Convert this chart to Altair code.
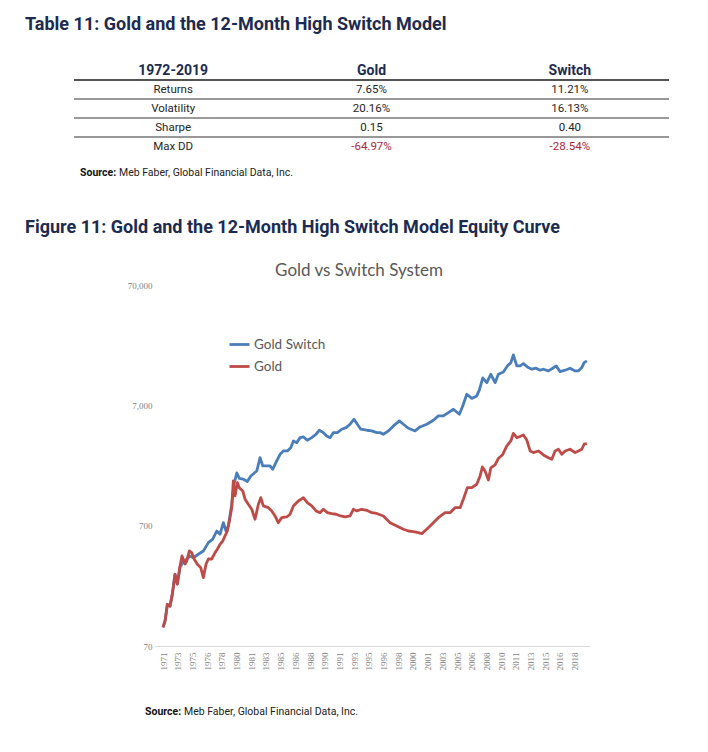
import json
import altair as alt
import pandas as pd

# ---------------- table values ----------------
table_header = ["1972-2019", "Gold", "Switch"]
table_metrics = ["Returns", "Volatility", "Sharpe", "Max DD"]
gold_stats = ["7.65%", "20.16%", "0.15", "-64.97%"]
switch_stats = ["11.21%", "16.13%", "0.40", "-28.54%"]

table_title = "Table 11: Gold and the 12-Month High Switch Model"
figure_title = "Figure 11: Gold and the 12-Month High Switch Model Equity Curve"
chart_title = "Gold vs Switch System"
source_bold = "Source:"
source_rest = "Meb Faber, Global Financial Data, Inc."

# ---------------- series values ----------------
gold_years = [1971.92, 1972.15, 1972.41, 1972.71, 1972.97, 1973.28, 1973.54, 1973.85, 1974.07, 1974.42,
              1974.61, 1974.90, 1975.17, 1975.44, 1975.81, 1976.20, 1976.49, 1976.80, 1977.06, 1977.44,
              1977.82, 1978.08, 1978.38, 1978.69, 1978.95, 1979.21, 1979.44, 1979.71, 1979.89, 1980.08,
              1980.35, 1980.57, 1980.96, 1981.22, 1981.59, 1981.98, 1982.35, 1982.73, 1983.00, 1983.29,
              1983.86, 1984.25, 1984.62, 1984.99, 1985.38, 1985.95, 1986.32, 1986.70, 1987.26, 1987.83,
              1988.28, 1988.78, 1989.27, 1989.72, 1990.10, 1990.55, 1991.05, 1991.54, 1992.07, 1992.56,
              1993.13, 1993.50, 1993.89, 1994.45, 1995.02, 1995.59, 1996.15, 1996.90, 1997.66, 1998.42,
              1999.17, 1999.74, 2000.30, 2000.87, 2001.26, 2001.82, 2002.57, 2003.14, 2003.90, 2004.47,
              2005.03, 2005.60, 2005.97, 2006.43, 2006.93, 2007.49, 2007.87, 2008.13, 2008.43, 2008.81,
              2009.08, 2009.57, 2009.94, 2010.44, 2010.90, 2011.35, 2011.64, 2012.03, 2012.40, 2012.78,
              2013.16, 2013.54, 2013.91, 2014.48, 2015.05, 2015.61, 2016.00, 2016.37, 2016.75, 2017.13,
              2017.51, 2018.07, 2018.64, 2019.01, 2019.40, 2019.66, 2019.97]
gold_values = [100, 113, 155, 150, 188, 276, 229, 324, 392, 336,
               356, 431, 418, 370, 334, 313, 259, 336, 370, 370,
               418, 446, 490, 522, 575, 632, 766, 988, 1647, 1236,
               1594, 1449, 1360, 1161, 1054, 958, 791, 1054, 1196, 1021,
               988, 928, 843, 741, 816, 827, 871, 1021, 1123, 1196,
               1087, 1021, 928, 898, 958, 898, 881, 871, 843, 827,
               843, 958, 928, 958, 940, 898, 884, 843, 741, 696,
               653, 632, 624, 612, 601, 653, 741, 816, 898, 898,
               988, 988, 1161, 1449, 1449, 1546, 1812, 2153, 1994, 1679,
               2112, 2237, 2534, 2735, 3218, 3541, 4089, 3772, 3860, 3972,
               3610, 2924, 2832, 2924, 2709, 2572, 2495, 2924, 3021, 2745,
               2924, 3021, 2832, 2924, 3021, 3325, 3363]

switch_years = [1971.92, 1972.15, 1972.41, 1972.71, 1972.97, 1973.28, 1973.54, 1973.85, 1974.22, 1974.61,
                1974.98, 1975.36, 1975.92, 1976.49, 1977.06, 1977.56, 1978.01, 1978.38, 1978.76, 1979.06,
                1979.33, 1979.71, 1979.97, 1980.28, 1980.57, 1981.03, 1981.48, 1981.87, 1982.55, 1982.92,
                1983.23, 1983.68, 1984.05, 1984.36, 1984.81, 1985.19, 1985.56, 1986.02, 1986.40, 1986.70,
                1987.08, 1987.46, 1987.83, 1988.28, 1988.78, 1989.27, 1989.64, 1990.10, 1990.48, 1990.86,
                1991.23, 1991.69, 1992.18, 1992.67, 1993.13, 1993.58, 1993.95, 1994.34, 1995.02, 1995.59,
                1996.15, 1996.53, 1996.90, 1997.47, 1998.04, 1998.72, 1999.17, 1999.74, 2000.50, 2001.06,
                2001.82, 2002.57, 2003.14, 2003.70, 2004.27, 2004.84, 2005.52, 2005.90, 2006.36, 2006.93,
                2007.49, 2007.79, 2008.17, 2008.63, 2009.08, 2009.57, 2009.94, 2010.51, 2010.96, 2011.35,
                2011.64, 2012.03, 2012.40, 2012.78, 2013.23, 2013.73, 2014.22, 2014.67, 2015.05, 2015.61,
                2016.11, 2016.49, 2016.94, 2017.51, 2018.07, 2018.64, 2019.01, 2019.40, 2019.66, 2019.97]
switch_values = [100, 113, 155, 150, 188, 276, 229, 318, 349, 370,
                 392, 379, 405, 431, 506, 540, 632, 594, 741, 632,
                 696, 1054, 1546, 1919, 1728, 1702, 1631, 1812, 1994, 2572,
                 2195, 2195, 2195, 2060, 2415, 2745, 2924, 2924, 3115, 3541,
                 3429, 3772, 3823, 3590, 3772, 4026, 4346, 4152, 3898, 3772,
                 4152, 4152, 4430, 4568, 4875, 5366, 4875, 4430, 4346, 4288,
                 4152, 4152, 4026, 4288, 4721, 5194, 4875, 4515, 4288, 4630,
                 4875, 5263, 5716, 5716, 6089, 6497, 5903, 6920, 8659, 7987,
                 8379, 9401, 11830, 10808, 12691, 10808, 12691, 13265, 14882, 15764,
                 18368, 14882, 14882, 15554, 14602, 13972, 14238, 13706, 13972, 13524,
                 14238, 14882, 13342, 13706, 14238, 13524, 13524, 14406, 15848, 16373]

series_names = ["Gold Switch", "Gold"]

# category-axis labels (one label every 20 months starting Dec 1971)
x_tick_labels = ["1971", "1973", "1975", "1976", "1978", "1980", "1981", "1983", "1985", "1986",
                 "1988", "1990", "1991", "1993", "1995", "1996", "1998", "2000", "2001", "2003",
                 "2005", "2006", "2008", "2010", "2011", "2013", "2015", "2016", "2018"]
y_tick_values = [70, 700, 7000, 70000]

# ---------------- styles ----------------
HEAD = "Roboto, 'Liberation Sans', sans-serif"
BODY = "Roboto, 'Liberation Sans', sans-serif"
CAL = "Lato, 'Open Sans', sans-serif"
SERIF = "'Liberation Serif', serif"
NAVY = "#1c2b4f"
BLUE = "#4a7ebb"
RED = "#be4b48"
NEG = "#b3263d"

# both panels share the same plot origin (page x = 155); the table spans page x 74..669
TL, TR = -81, 514


def text_layer(txt, x, y, **kw):
    return alt.Chart(pd.DataFrame({"t": [txt]})).mark_text(**kw).encode(
        text="t:N", x=alt.value(x), y=alt.value(y))


# ---------------- table panel ----------------
cells = []
for c, h in enumerate(table_header):
    cells.append({"row": 0, "col": c, "text": h, "kind": "header"})
for r, m in enumerate(table_metrics, start=1):
    g, s = gold_stats[r - 1], switch_stats[r - 1]
    cells.append({"row": r, "col": 0, "text": m, "kind": "body"})
    cells.append({"row": r, "col": 1, "text": g, "kind": "neg" if g.startswith("-") else "body"})
    cells.append({"row": r, "col": 2, "text": s, "kind": "neg" if s.startswith("-") else "body"})
cells_df = pd.DataFrame(cells)

rules_df = pd.DataFrame({"row": [0, 1, 2, 3],
                         "c": ["#1a1a1a", "#333333", "#9a9a9a", "#333333"],
                         "w": [1.6, 1.2, 2.0, 1.2]})

row_scale = alt.Scale(type="band", domain=[0, 1, 2, 3, 4], paddingInner=0, paddingOuter=0)
col_scale = alt.Scale(type="band", domain=[0, 1, 2], range=[TL, TR], paddingInner=0, paddingOuter=0)

hdr = alt.Chart(cells_df).transform_filter("datum.kind == 'header'").mark_text(
    font=HEAD, fontSize=14, fontWeight="bold", color=NAVY, baseline="middle"
).encode(
    x=alt.X("col:O", scale=col_scale, axis=None, bandPosition=0.5),
    y=alt.Y("row:O", scale=row_scale, axis=None, bandPosition=0.5),
    text="text:N",
)
body = alt.Chart(cells_df).transform_filter("datum.kind != 'header'").mark_text(
    font=BODY, fontSize=11.5, baseline="middle"
).encode(
    x=alt.X("col:O", scale=col_scale, axis=None, bandPosition=0.5),
    y=alt.Y("row:O", scale=row_scale, axis=None, bandPosition=0.5),
    text="text:N",
    color=alt.condition("datum.kind == 'neg'", alt.value(NEG), alt.value("#262626")),
)
rules = alt.Chart(rules_df).mark_rule().encode(
    y=alt.Y("row:O", scale=row_scale, axis=None, bandPosition=1),
    x=alt.value(TL),
    x2=alt.value(TR),
    color=alt.Color("c:N", scale=None),
    strokeWidth=alt.StrokeWidth("w:Q", scale=None),
)
tbl_title = text_layer(table_title, -130, -31.5, font=HEAD, fontSize=18, fontWeight="bold",
                       color=NAVY, align="left", baseline="alphabetic")
src1a = text_layer(source_bold, -75, 111.5, font=BODY, fontSize=10.5, fontWeight="bold",
                   align="left", baseline="middle", color="#111111")
src1b = text_layer(source_rest, -36, 111.5, font=BODY, fontSize=10.5,
                   align="left", baseline="middle", color="#222222")

table_panel = alt.layer(rules, hdr, body, tbl_title, src1a, src1b).properties(width=TR, height=95)

# ---------------- line chart panel ----------------
series_df = pd.concat([
    pd.DataFrame({"year": switch_years, "value": switch_values, "series": series_names[0]}),
    pd.DataFrame({"year": gold_years, "value": gold_values, "series": series_names[1]}),
], ignore_index=True)

T0 = 1971.92
tick_years = [round(T0 + k * 20 / 12, 4) for k in range(len(x_tick_labels))]
label_expr = f"{json.dumps(x_tick_labels)}[round((datum.value - {T0}) * 12 / 20)]"

color_scale = alt.Scale(domain=series_names, range=[BLUE, RED])
x_enc = alt.X("year:Q", scale=alt.Scale(domain=[1971.01, 2020.33], nice=False, zero=False),
              axis=alt.Axis(values=tick_years, labelExpr=label_expr, labelAngle=-90, labelAlign="right",
                            labelBaseline="middle", ticks=False, grid=False, domainColor="#d9d9d9",
                            domainWidth=1, labelFont=SERIF, labelFontSize=9, labelColor="#7f7f7f",
                            labelPadding=6, title=None, labelOverlap=False))
y_enc = alt.Y("value:Q", scale=alt.Scale(type="log", domain=[70, 70000], nice=False),
              axis=alt.Axis(values=y_tick_values, format=",", domain=False, ticks=False, grid=False,
                            labelFont=SERIF, labelFontSize=9, labelColor="#7f7f7f", labelPadding=3,
                            title=None))
legend = alt.Legend(title=None, orient="none", legendX=73, legendY=48, symbolType="stroke",
                    symbolSize=400, symbolStrokeWidth=2.8, labelFont=CAL, labelFontSize=13.5,
                    labelColor="#595959", rowPadding=4, padding=0, labelOffset=3)

base = alt.Chart(series_df)
switch_line = base.transform_filter(f"datum.series == '{series_names[0]}'").mark_line(
    strokeWidth=2.8, strokeJoin="round").encode(
    x=x_enc, y=y_enc,
    color=alt.Color("series:N", scale=color_scale, legend=legend, sort=series_names))
gold_line = base.transform_filter(f"datum.series == '{series_names[1]}'").mark_line(
    strokeWidth=2.8, strokeJoin="round").encode(
    x=x_enc, y=y_enc,
    color=alt.Color("series:N", scale=color_scale, legend=legend, sort=series_names))

fig_text = text_layer(figure_title, -130, -52, font=HEAD, fontSize=18, fontWeight="bold",
                      color=NAVY, align="left", baseline="alphabetic")
ttl_text = text_layer(chart_title, 204, -9, font=CAL, fontSize=17, color="#595959",
                      align="center", baseline="alphabetic")
src2a = text_layer(source_bold, -10, 427, font=BODY, fontSize=10.5, fontWeight="bold",
                   align="left", baseline="middle", color="#111111")
src2b = text_layer(source_rest, 29, 427, font=BODY, fontSize=10.5,
                   align="left", baseline="middle", color="#222222")

line_panel = alt.layer(switch_line, gold_line, fig_text, ttl_text, src2a, src2b).properties(
    width=435, height=361)

chart = alt.vconcat(table_panel, line_panel, spacing=41).resolve_scale(
    color="independent"
).resolve_legend(color="independent").properties(
    padding={"left": 17, "top": 7, "right": 0, "bottom": 0},
    background="white",
).configure_view(stroke=None)

chart.save("out.html", embed_options={"renderer": "svg", "actions": False})
